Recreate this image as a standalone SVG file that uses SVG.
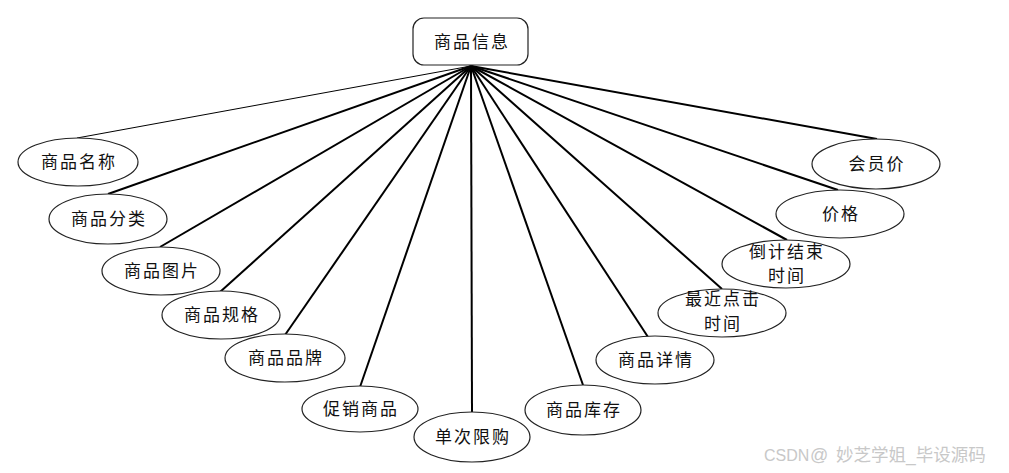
<svg xmlns="http://www.w3.org/2000/svg" width="1009" height="473" viewBox="0 0 1009 473">
<style>
.n{fill:#fff;stroke:#222;stroke-width:1.2}
.t{font-family:"Noto Sans CJK SC","Noto Sans",sans-serif;font-size:17px;fill:#111;text-anchor:middle;letter-spacing:2px}
.c line{stroke:#000;stroke-width:2}
.wm{font-family:"Liberation Sans","Noto Sans CJK SC",sans-serif;font-size:16px;fill:#c8c8c8}
</style>
<rect width="1009" height="473" fill="#fff"/>
<g class="c">
<line x1="471" y1="66" x2="77" y2="138" style="stroke-width:1"/>
<line x1="471" y1="66" x2="108" y2="194"/>
<line x1="471" y1="66" x2="160" y2="247"/>
<line x1="471" y1="66" x2="220" y2="292"/>
<line x1="471" y1="66" x2="285" y2="335"/>
<line x1="471" y1="66" x2="360" y2="387"/>
<line x1="471" y1="66" x2="472" y2="412"/>
<line x1="471" y1="66" x2="583" y2="385"/>
<line x1="471" y1="66" x2="648" y2="337"/>
<line x1="471" y1="66" x2="722" y2="289"/>
<line x1="471" y1="66" x2="787" y2="240"/>
<line x1="471" y1="66" x2="838" y2="190"/>
<line x1="471" y1="66" x2="877" y2="139"/>
</g>
<g id="root"><rect class="n" x="413" y="18" width="115" height="47" rx="11"/><text class="t" x="472" y="48">商品信息</text></g>
<g id="n1"><ellipse class="n" cx="78" cy="162" rx="60" ry="24"/><text class="t" x="79" y="168">商品名称</text></g>
<g id="n2"><ellipse class="n" cx="108" cy="219" rx="59" ry="25"/><text class="t" x="109" y="225">商品分类</text></g>
<g id="n3"><ellipse class="n" cx="161" cy="271" rx="59" ry="24"/><text class="t" x="162" y="277">商品图片</text></g>
<g id="n4"><ellipse class="n" cx="221" cy="315" rx="59" ry="24"/><text class="t" x="222" y="321">商品规格</text></g>
<g id="n5"><ellipse class="n" cx="285" cy="358" rx="60" ry="24"/><text class="t" x="286" y="364">商品品牌</text></g>
<g id="n6"><ellipse class="n" cx="360" cy="409" rx="58" ry="23"/><text class="t" x="361" y="415">促销商品</text></g>
<g id="n7"><ellipse class="n" cx="472" cy="437" rx="58" ry="25"/><text class="t" x="473" y="443">单次限购</text></g>
<g id="n8"><ellipse class="n" cx="583" cy="410" rx="58" ry="25"/><text class="t" x="584" y="416">商品库存</text></g>
<g id="n9"><ellipse class="n" cx="655" cy="360" rx="59" ry="24"/><text class="t" x="656" y="366">商品详情</text></g>
<g id="n10"><ellipse class="n" cx="722" cy="313" rx="64" ry="24"/><text class="t" x="723" y="305">最近点击</text><text class="t" x="723" y="330">时间</text></g>
<g id="n11"><ellipse class="n" cx="786" cy="264" rx="64" ry="24"/><text class="t" x="787" y="258">倒计结束</text><text class="t" x="787" y="282">时间</text></g>
<g id="n12"><ellipse class="n" cx="840" cy="214" rx="64" ry="24"/><text class="t" x="841" y="220">价格</text></g>
<g id="n13"><ellipse class="n" cx="876" cy="164" rx="64" ry="25"/><text class="t" x="877" y="170">会员价</text></g>
<text class="wm" y="461"><tspan x="764">CSDN</tspan><tspan x="810" style="font-size:18px">@</tspan><tspan x="836" style="font-size:17.5px">妙芝学姐_毕设源码</tspan></text>
</svg>
